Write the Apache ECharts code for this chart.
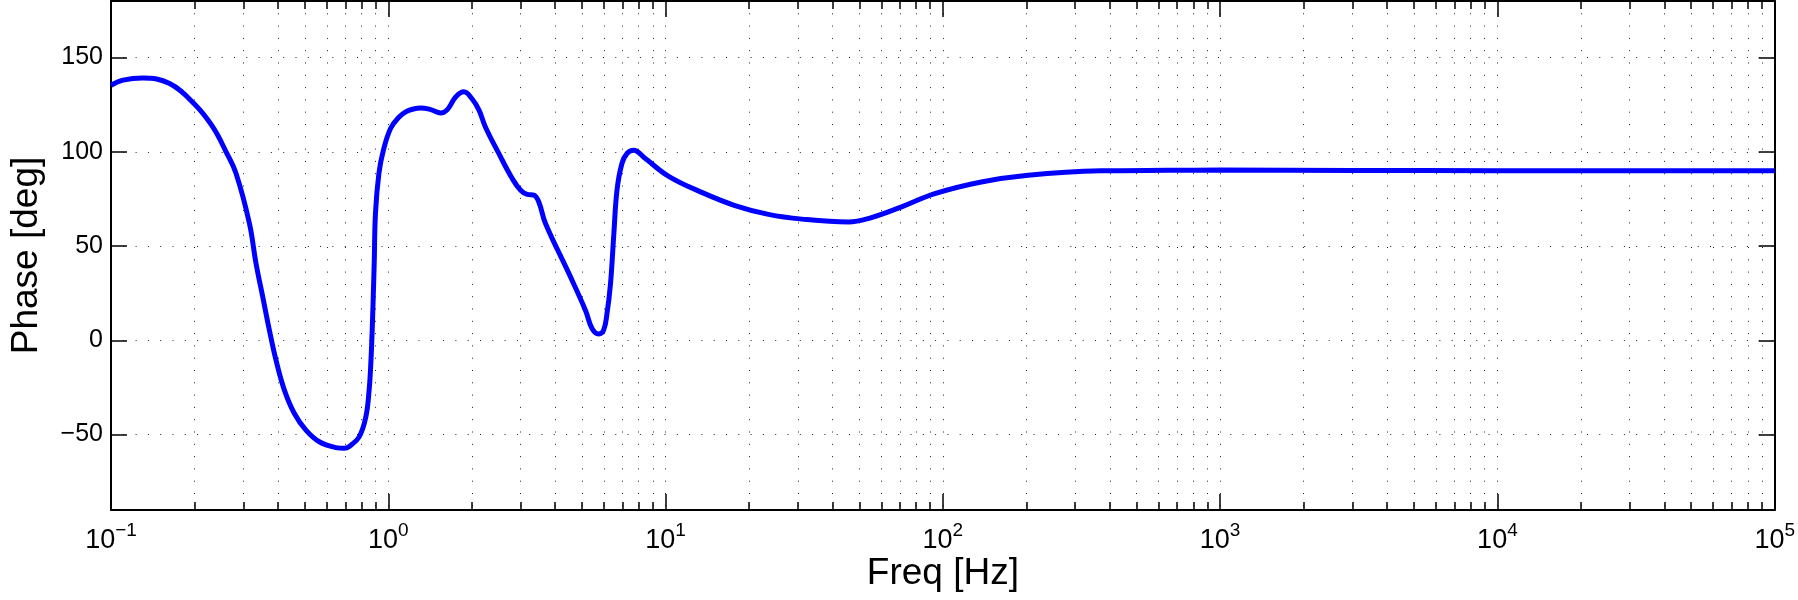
<!DOCTYPE html>
<html>
<head>
<meta charset="utf-8">
<script src="https://cdn.jsdelivr.net/npm/echarts@6/dist/echarts.min.js"></script>
<style>
html,body{margin:0;padding:0;background:#fff;}
#chart{width:1798px;height:600px;}
</style>
</head>
<body>
<div id="chart"></div>
<script>
// Data (frequency in Hz, phase in degrees)
const freq = [0.1, 0.1105, 0.13, 0.1627, 0.2003, 0.2328, 0.26, 0.2825, 0.3157, 0.3334, 0.3525, 0.3726, 0.3936, 0.422, 0.4585, 0.5047, 0.5641, 0.6473, 0.694, 0.7234, 0.7854, 0.83, 0.853, 0.865, 0.875, 0.8897, 0.899, 0.925, 0.96, 1.02, 1.094, 1.156, 1.222, 1.31, 1.422, 1.545, 1.633, 1.75, 1.875, 2.007, 2.124, 2.24, 2.506, 2.80, 3.0, 3.17, 3.35, 3.49, 3.69, 4.48, 5.14, 5.43, 5.74, 5.98, 6.15, 6.33, 6.51, 6.68, 6.96, 7.26, 7.67, 8.45, 10.26, 13.5, 17.8, 23.5, 31, 45.6, 53.8, 71, 93.5, 137.6, 203, 372, 647, 1000, 3000, 10000, 100000];
const phase = [135.3, 138.0, 139.2, 136.2, 125.2, 113.2, 100, 88.5, 62, 40.8, 23.1, 5.4, -10.5, -26.4, -38.8, -47.6, -53.8, -56.9, -57.3, -56.3, -51.2, -40.6, -26.4, -12.2, 5.4, 40.8, 67.3, 88.5, 100.8, 112.5, 118.5, 121.2, 122.6, 123.3, 122.4, 120.6, 122.4, 129.1, 131.8, 128, 122.1, 113.2, 99, 85.8, 79.6, 77.4, 77, 73.4, 62, 35.5, 16, 6.3, 3.4, 5.4, 14.3, 30, 56.7, 79.6, 93.8, 99.1, 100.8, 96.4, 87, 78.5, 71.5, 66.8, 64.3, 62.8, 64.6, 70.8, 77.8, 84, 87.6, 89.9, 90.2, 90.3, 90.1, 90, 90];

// Axis tick definitions
const xDecades = [-1, 0, 1, 2, 3, 4, 5];           // exponents of the decade labels 10^n
const xMinorMultipliers = [1, 2, 3, 4, 5, 6, 7, 8, 9];
const yTicks = [-50, 0, 50, 100, 150];
const xMin = 0.1, xMax = 100000, yMin = -90, yMax = 180;

const xMinorLog = [];
for (let i = 0; i < xDecades.length - 1; i++) {
  for (const k of xMinorMultipliers) xMinorLog.push(Math.log10(k) + xDecades[i]);
}
xMinorLog.push(xDecades[xDecades.length - 1]);

const FONT = "'Liberation Sans', Arial, Helvetica, sans-serif";
const gridStyle = {color: '#222', width: 1, type: [1, 11.3]};
const minus = v => (v < 0 ? '\u2212' + Math.abs(v) : String(v));

function auxX(position, ticks, len, opts) {
  return Object.assign({
    type: 'value', min: xDecades[0], max: xDecades[xDecades.length - 1], position: position,
    axisLine: {show: false, onZero: false},
    axisTick: {show: true, inside: true, length: len, customValues: ticks, lineStyle: {color: '#000', width: 1.5}},
    axisLabel: {show: false},
    splitLine: {show: false}
  }, opts || {});
}

const chart = echarts.init(document.getElementById('chart'), null, {renderer: 'canvas'});
chart.setOption({
  animation: false,
  backgroundColor: '#fff',
  textStyle: {fontFamily: FONT},
  grid: {left: 108, right: 23, top: 1, bottom: 90, containLabel: false},
  xAxis: [
    { // data axis (logarithmic)
      type: 'log', logBase: 10, min: xMin, max: xMax, position: 'bottom',
      axisLine: {show: true, onZero: false, lineStyle: {color: '#000', width: 2}},
      axisTick: {show: false}, axisLabel: {show: false}, splitLine: {show: false},
      name: 'Freq [Hz]', nameLocation: 'middle', nameGap: 45,
      nameTextStyle: {fontSize: 37, color: '#000', fontFamily: FONT}
    },
    auxX('bottom', xDecades, 16, {
      axisLabel: {
        show: true, customValues: xDecades, margin: 11, color: '#000', fontFamily: FONT,
        formatter: v => '{b|10}{s|' + minus(Math.round(v)) + '}',
        rich: {
          b: {fontSize: 27, lineHeight: 33, color: '#000', fontFamily: FONT, verticalAlign: 'bottom'},
          s: {fontSize: 19, lineHeight: 33, color: '#000', fontFamily: FONT, verticalAlign: 'top'}
        }
      }
    }),
    auxX('bottom', xMinorLog, 8, {splitLine: {show: true, lineStyle: gridStyle}}),
    auxX('top', xDecades, 16, {axisLine: {show: true, onZero: false, lineStyle: {color: '#000', width: 2}}}),
    auxX('top', xMinorLog, 8)
  ],
  yAxis: [
    {
      type: 'value', min: yMin, max: yMax, position: 'left',
      axisLine: {show: true, onZero: false, lineStyle: {color: '#000', width: 2}},
      axisTick: {show: true, inside: true, length: 16, customValues: yTicks, lineStyle: {color: '#000', width: 1.5}},
      axisLabel: {show: true, customValues: yTicks, fontSize: 25, color: '#000', margin: 8, fontFamily: FONT, formatter: minus},
      splitLine: {show: true, lineStyle: gridStyle},
      name: 'Phase [deg]', nameLocation: 'middle', nameGap: 66, nameRotate: 90,
      nameTextStyle: {fontSize: 37, color: '#000', fontFamily: FONT}
    },
    {
      type: 'value', min: yMin, max: yMax, position: 'right',
      axisLine: {show: true, onZero: false, lineStyle: {color: '#000', width: 2}},
      axisTick: {show: true, inside: true, length: 16, customValues: yTicks, lineStyle: {color: '#000', width: 1.5}},
      axisLabel: {show: false}, splitLine: {show: false}
    }
  ],
  series: [{
    type: 'line', xAxisIndex: 0, yAxisIndex: 0,
    data: freq.map((f, i) => [f, phase[i]]),
    showSymbol: false, symbol: 'none',
    smooth: 0.4,
    lineStyle: {color: '#0000ff', width: 5},
    clip: true
  }]
});
</script>
</body>
</html>
